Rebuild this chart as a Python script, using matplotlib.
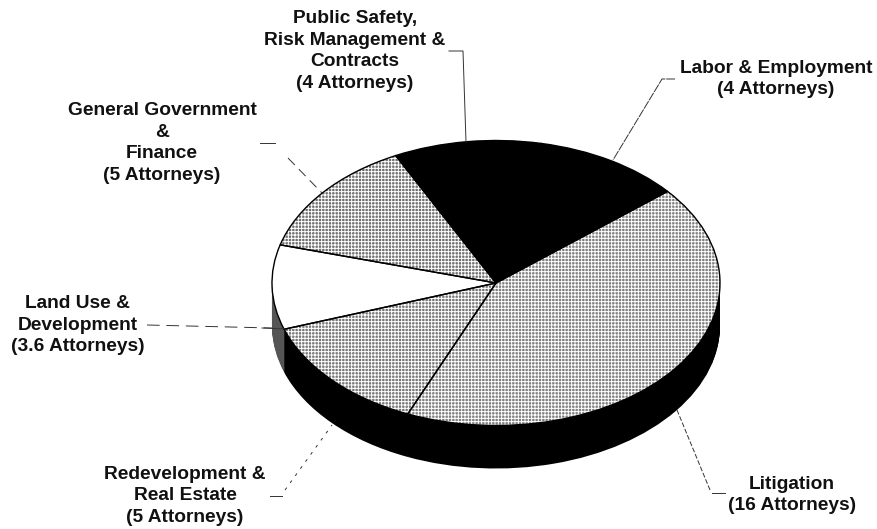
import matplotlib
matplotlib.use("Agg")
import matplotlib.pyplot as plt
import numpy as np

plt.rcParams["font.family"] = ["Liberation Sans", "DejaVu Sans"]
plt.rcParams["hatch.linewidth"] = 0.7

# slices, counter-clockwise from the upper right
groups = ["Labor & Employment", "Public Safety,\nRisk Management &\nContracts",
          "General Government\n&\nFinance", "Land Use &\nDevelopment",
          "Redevelopment &\nReal Estate", "Litigation"]
attorneys = [4, 4, 5, 3.6, 5, 16]

top_colors = ["black", "black", "#707070", "white", "#787878", "#808080"]
side_colors = ["black", "black", "black", "#555555", "black", "black"]

# label centres in pixels
label_x = [776, 355, 162, 78, 185, 792]
label_y = [79, 51, 143, 325, 496, 495]

# leader lines in pixels, with their dash patterns
leaders = [
    ([(675, 79), (662, 79), (613, 160)], (0, (9, 1))),
    ([(449, 51), (463, 51), (466, 142)], "-"),
    ([(260, 143), (275, 143)], "-"),
    ([(288, 158), (322, 193)], (0, (10, 6))),
    ([(147, 325), (272, 328)], (0, (13, 7))),
    ([(262, 328), (285, 329)], "-"),
    ([(270, 496), (282, 496)], "-"),
    ([(285, 490), (332, 425)], (0, (3, 6))),
    ([(677, 410), (710, 490)], (0, (5, 2))),
    ([(712, 493), (725, 493)], "-"),
]

W, H = 878, 529
CX, CY, RX, RY = 496, 283, 224, 142.5
DEPTH = 43
START = 40

fig = plt.figure(figsize=(W / 100, H / 100), dpi=100)
ax = fig.add_axes([0, 0, 1, 1])

# extruded rim, bottom layer first
for off in np.arange(DEPTH, 0, -1):
    ax.pie(attorneys, colors=side_colors, startangle=START,
           center=(0, -off / RY), wedgeprops={"linewidth": 0})

# top face
ax.pie(attorneys, colors=top_colors, startangle=START, wedgeprops={"linewidth": 0})
# stipple over the grey slices
stipple, _ = ax.pie(attorneys, colors=["none"] * 6, startangle=START,
                    wedgeprops={"linewidth": 0, "edgecolor": "white"})
for w, c in zip(stipple, top_colors):
    if c in ("black", "white"):
        w.set_visible(False)
    else:
        w.set_hatch("+++++")
ax.pie(attorneys, colors=["none"] * 6, startangle=START,
       wedgeprops={"linewidth": 1.0, "edgecolor": "black"})

ax.set_aspect("auto")
ax.set_xlim((0 - CX) / RX, (W - CX) / RX)
ax.set_ylim((CY - H) / RY, CY / RY)

# overlay in pixel coordinates for labels and leaders
ov = fig.add_axes([0, 0, 1, 1])
ov.set_xlim(0, W)
ov.set_ylim(H, 0)
ov.axis("off")

for pts, style in leaders:
    xs, ys = zip(*pts)
    ov.plot(xs, ys, color="#333333", lw=0.7, ls=style)

for name, n, x, y in zip(groups, attorneys, label_x, label_y):
    ov.text(x, y, f"{name}\n({n:g} Attorneys)", ha="center", va="center",
            fontsize=13.8, fontweight="bold", linespacing=1.38, color="#111111")

fig.savefig("out.png", dpi=100)
